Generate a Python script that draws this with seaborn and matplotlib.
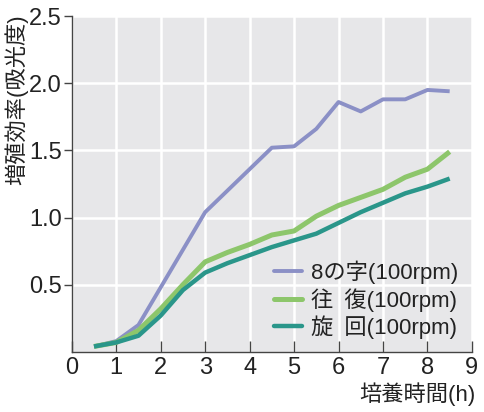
import numpy as np
import pandas as pd
import matplotlib
matplotlib.use("Agg")
import matplotlib.pyplot as plt
import seaborn as sns

# data
hours = [0.5, 1, 1.5, 2, 2.5, 3, 3.5, 4, 4.5, 5, 5.5, 6, 6.5, 7, 7.5, 8, 8.5]
figure8 = [0.04, 0.08, 0.20, 0.48, 0.76, 1.04, 1.20, 1.36, 1.52, 1.53, 1.66, 1.86, 1.79, 1.88, 1.88, 1.95, 1.94]
reciprocal = [0.04, 0.07, 0.16, 0.32, 0.50, 0.67, 0.74, 0.80, 0.87, 0.90, 1.01, 1.09, 1.15, 1.21, 1.30, 1.36, 1.49]
rotary = [0.04, 0.07, 0.12, 0.27, 0.46, 0.59, 0.66, 0.72, 0.78, 0.83, 0.88, 0.96, 1.04, 1.11, 1.18, 1.23, 1.29]
series_names = ["8の字(100rpm)", "往\u2002復(100rpm)", "旋\u2002回(100rpm)"]
colors = ["#8b90c6", "#8dc66b", "#2a968a"]
widths = [2.8, 3.6, 3.2]

x_ticks = [0, 1, 2, 3, 4, 5, 6, 7, 8, 9]
y_ticks = [0.5, 1.0, 1.5, 2.0, 2.5]

sns.set_theme(style="darkgrid")
plt.rcParams["font.family"] = ["Liberation Sans", "Noto Sans CJK JP"]

df = pd.DataFrame({
    "hours": hours * 3,
    "value": figure8 + reciprocal + rotary,
    "series": np.repeat(series_names, len(hours)),
})

fig = plt.figure(figsize=(4.85, 4.12), dpi=100)
ax = fig.add_axes([0.148, 0.146, 0.825, 0.815])
ax.set_facecolor("#e7e7e9")

sns.lineplot(data=df, x="hours", y="value", hue="series", palette=colors,
             hue_order=series_names, ax=ax, legend=False)
for line, lw in zip(ax.get_lines(), widths):
    line.set_linewidth(lw)
    line.set_solid_capstyle("butt")

ax.set_xlim(0, 9)
ax.set_ylim(0, 2.5)
ax.set_xticks(x_ticks)
ax.set_yticks(y_ticks)
ax.set_xticklabels([str(t) for t in x_ticks])
ax.set_yticklabels([f"{t:.1f}" for t in y_ticks])
ax.grid(True, color="white", linewidth=1.8)

for side in ["top", "right"]:
    ax.spines[side].set_visible(False)
for side in ["left", "bottom"]:
    ax.spines[side].set_visible(True)
    ax.spines[side].set_color("#444444")
    ax.spines[side].set_linewidth(1.0)

ax.tick_params(axis="y", direction="out", length=6, width=1, color="#444444",
               labelsize=17, labelcolor="#222222", pad=1, left=True)
ax.tick_params(axis="x", direction="in", length=8, width=1, color="#444444",
               labelsize=17, labelcolor="#222222", pad=4, bottom=True)

ax.set_xlabel("培養時間(h)", fontsize=16, color="#222222", loc="right")
ax.xaxis.set_label_coords(1.01, -0.09)
ax.set_ylabel("増殖効率(吸光度)", fontsize=16, color="#222222", loc="top")
ax.yaxis.set_label_coords(-0.108, 1.005)

handles = [plt.Line2D([], [], color=c, linewidth=lw) for c, lw in zip(colors, widths)]
ax.legend(handles, series_names, loc="lower right", bbox_to_anchor=(1.0, -0.002),
          frameon=False, fontsize=16, handlelength=1.3, handletextpad=0.4,
          labelspacing=0.18, borderaxespad=0.2, labelcolor="#222222")

fig.savefig("out.png", dpi=100)
